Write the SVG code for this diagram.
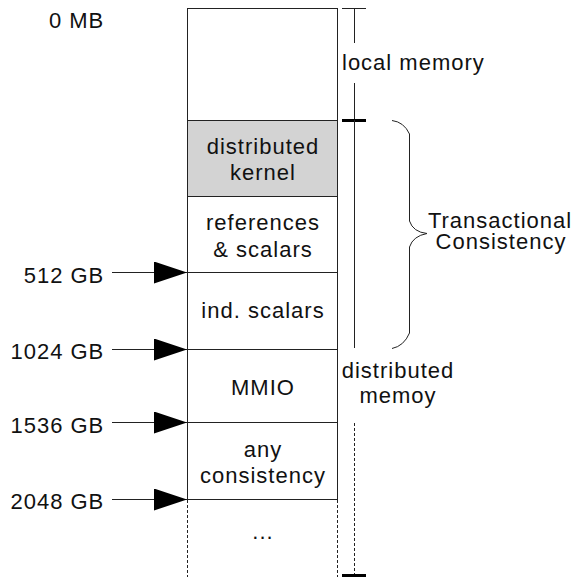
<svg xmlns="http://www.w3.org/2000/svg" width="573" height="577" viewBox="0 0 573 577">
<style>
text{font-family:"Liberation Sans",Arial,sans-serif;font-size:22px;letter-spacing:1px;fill:#111}
.c{text-anchor:middle}
.r{text-anchor:end}
.ln{stroke:#222;stroke-width:1;fill:none}
.box{stroke:#222;stroke-width:1;fill:#fff}
.gray{fill:#d3d3d3}
.dash{stroke:#222;stroke-width:1;fill:none;stroke-dasharray:3 2}
</style>
<defs>
<marker id="ah" markerUnits="userSpaceOnUse" markerWidth="34" markerHeight="23" refX="33" refY="11" orient="auto">
<path d="M0,0 L33,11 L0,22 z" fill="#000"/>
</marker>
</defs>
<rect width="573" height="577" fill="#fff"/>
<g id="memory-column">
<rect id="seg-local" class="box" x="187.5" y="8.5" width="150" height="112"/>
<g id="seg-kernel"><rect class="box gray" x="187.5" y="120.5" width="150" height="76"/>
<text class="c" x="263" y="154.3">distributed</text><text class="c" x="263" y="180">kernel</text></g>
<g id="seg-refs"><rect class="box" x="187.5" y="196.5" width="150" height="76"/>
<text class="c" x="263" y="230">references</text><text class="c" x="263" y="256.7">&amp; scalars</text></g>
<g id="seg-ind"><rect class="box" x="187.5" y="272.5" width="150" height="77"/>
<text class="c" x="263" y="317.7">ind. scalars</text></g>
<g id="seg-mmio"><rect class="box" x="187.5" y="349.5" width="150" height="73"/>
<text class="c" x="263" y="395">MMIO</text></g>
<g id="seg-any"><rect class="box" x="187.5" y="422.5" width="150" height="77"/>
<text class="c" x="263" y="457">any</text><text class="c" x="263" y="483">consistency</text></g>
<g id="seg-more"><line class="dash" x1="187.5" y1="500" x2="187.5" y2="577"/><line class="dash" x1="337.5" y1="500" x2="337.5" y2="577"/>
<text class="c" x="263" y="539">...</text></g>
</g>
<g id="addr-labels">
<text class="r" x="104.3" y="28.3">0 MB</text>
<text class="r" x="104.3" y="282.5">512 GB</text>
<text class="r" x="104.3" y="358.8">1024 GB</text>
<text class="r" x="104.3" y="432.5">1536 GB</text>
<text class="r" x="104.3" y="509.2">2048 GB</text>
</g>
<g id="connectors">
<line class="ln" x1="112" y1="272.5" x2="187" y2="272.5" marker-end="url(#ah)"/>
<line class="ln" x1="112" y1="349.5" x2="187" y2="349.5" marker-end="url(#ah)"/>
<line class="ln" x1="112" y1="422.5" x2="187" y2="422.5" marker-end="url(#ah)"/>
<line class="ln" x1="112" y1="499.5" x2="187" y2="499.5" marker-end="url(#ah)"/>
</g>
<g id="scale-local">
<line class="ln" x1="342" y1="8.5" x2="366" y2="8.5"/>
<line class="ln" x1="354.5" y1="8" x2="354.5" y2="43"/>
<line class="ln" x1="354.5" y1="83" x2="354.5" y2="120"/>
<text x="342" y="69.5">local memory</text>
</g>
<g id="scale-distributed">
<line x1="342" y1="120.5" x2="366" y2="120.5" stroke="#000" stroke-width="3"/>
<line class="ln" x1="354.5" y1="120" x2="354.5" y2="348"/>
<text class="c" x="398" y="378.3">distributed</text>
<text class="c" x="398" y="403.3">memoy</text>
<line class="dash" x1="354.5" y1="423" x2="354.5" y2="574"/>
<line x1="342" y1="575.5" x2="366" y2="575.5" stroke="#000" stroke-width="3"/>
</g>
<g id="brace-transactional">
<path class="ln" d="M392,120.5 Q404,122 409.5,134 L409.5,221 Q413,232 427,233.5 Q413,236 409.5,247 L409.5,333 Q404,346 392,348.5"/>
<text class="c" x="500" y="227.7">Transactional</text>
<text class="c" x="501" y="249.4">Consistency</text>
</g>
</svg>
